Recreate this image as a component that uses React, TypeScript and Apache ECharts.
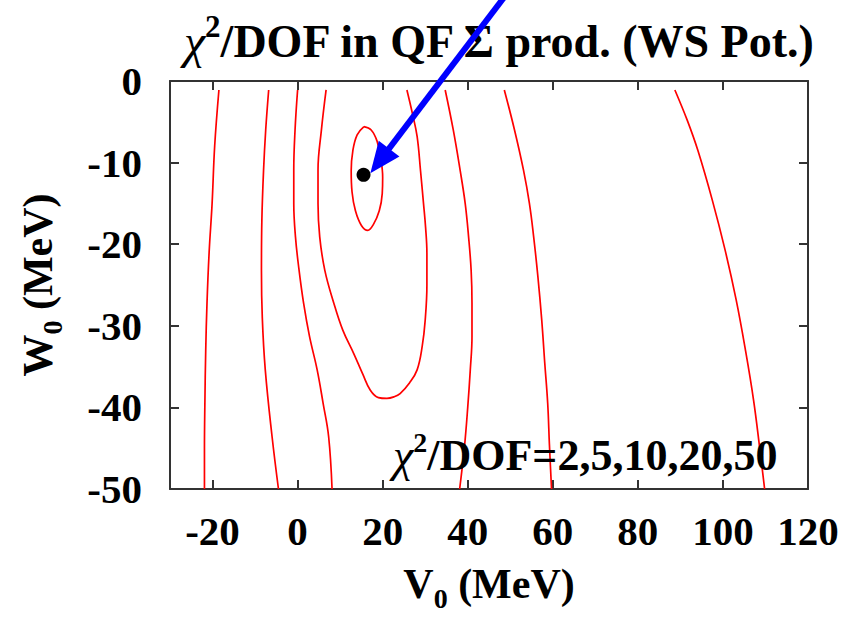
import React, { useEffect, useRef } from 'react';
import * as echarts from 'echarts';

// ---- data (V0, W0) in MeV ----
const xTickValues = [-20, 0, 20, 40, 60, 80, 100];
const xLabelValues = [-20, 0, 20, 40, 60, 80, 100, 120];
const chiLevels = [2, 5, 10, 20, 50];

// chi^2/DOF = 2 (closed ellipse around minimum)
const contour2 = [
  [15.6, -5.6], [14.0, -6.6], [13.0, -8.5], [12.6, -11.0], [12.8, -13.6], [13.6, -15.9],
  [15.0, -17.7], [16.5, -18.3], [17.8, -17.6], [19.2, -15.9], [19.9, -13.8], [20.0, -11.8],
  [19.6, -9.6], [18.7, -7.4], [17.3, -6.0], [15.6, -5.6],
];
// chi^2/DOF = 5 (open at top)
const contour5 = [
  [6.7, -1.1], [5.6, -6.0], [4.8, -10.9], [4.8, -15.0], [5.2, -19.1], [6.4, -23.2], [8.5, -27.2],
  [10.6, -30.5], [13.2, -33.4], [15.3, -35.9], [17.1, -37.9], [19.0, -38.8], [21.0, -38.9],
  [22.7, -38.7], [24.1, -38.3], [26.3, -37.0], [28.1, -35.4], [29.3, -32.5], [30.0, -29.3],
  [30.4, -25.0], [30.4, -21.1], [30.1, -18.0], [29.6, -15.0], [28.9, -11.0], [28.1, -6.8],
  [27.0, -4.0], [25.7, -1.1],
];
// chi^2/DOF = 10
const contour10Left = [
  [0.0, -1.1], [-0.6, -6.0], [-0.9, -10.9], [-0.9, -15.0], [-0.5, -19.1], [0.3, -23.0],
  [1.4, -27.2], [2.8, -31.3], [4.6, -35.4], [6.0, -39.5], [7.3, -43.6], [8.1, -50.0],
];
const contour10Right = [
  [34.7, -1.1], [36.6, -6.0], [38.2, -10.9], [39.4, -15.0], [40.2, -19.1], [40.8, -23.2],
  [41.0, -27.2], [41.0, -31.3], [40.6, -35.4], [40.0, -40.0], [39.2, -45.0], [38.1, -50.0],
];
// chi^2/DOF = 20
const contour20Left = [
  [-6.8, -1.1], [-7.5, -6.0], [-8.0, -10.9], [-8.4, -17.0], [-8.5, -23.2], [-8.3, -29.0],
  [-7.6, -35.4], [-6.0, -43.6], [-4.5, -50.0],
];
const contour20Right = [
  [48.6, -1.1], [51.0, -6.0], [53.1, -10.9], [54.5, -15.0], [55.5, -19.1], [56.5, -24.0],
  [57.4, -29.3], [58.1, -34.5], [58.8, -39.5], [59.2, -44.5], [59.7, -50.0],
];
// chi^2/DOF = 50
const contour50Left = [
  [-18.5, -1.1], [-19.5, -8.0], [-20.1, -15.0], [-20.8, -21.0], [-21.3, -27.2], [-21.6, -33.0],
  [-21.8, -39.5], [-21.9, -45.0], [-21.9, -50.0],
];
const contour50Right = [
  [88.7, -1.1], [91.6, -4.8], [94.1, -8.5], [97.5, -14.6], [100.5, -20.7], [103.1, -26.8],
  [105.3, -33.0], [107.2, -39.1], [108.7, -45.2], [109.8, -50.0],
];

const bestFit = [15.5, -11.5];
const arrowStart = [48.9, 10.5];
const arrowEnd = [17.1, -11.3];

const FONT = "'Liberation Serif', 'DejaVu Serif', serif";
const FRAME = '#333333';

export default function App() {
  const ref = useRef<HTMLDivElement>(null);

  useEffect(() => {
    if (!ref.current) return;
    const chart = echarts.init(ref.current, null, { renderer: 'svg' });

    const contours: [string, number[][]][] = [
      ['2', contour2], ['5', contour5], ['10a', contour10Left], ['10b', contour10Right],
      ['20a', contour20Left], ['20b', contour20Right], ['50a', contour50Left], ['50b', contour50Right],
    ];

    const axisCommon = {
      axisLine: { show: true, onZero: false, lineStyle: { color: FRAME, width: 2 } },
      splitLine: { show: false },
    };

    const option: any = {
      animation: false,
      backgroundColor: '#ffffff',
      textStyle: { fontFamily: FONT },
      title: {
        text: '{c|χ}{s|2}{m|/DOF in QF Σ prod. (WS Pot.)}',
        left: 184,
        top: 11,
        padding: 0,
        textStyle: {
          rich: {
            c: { fontSize: 48, fontFamily: FONT, fontStyle: 'italic', fontWeight: 'normal', color: '#000' },
            m: { fontSize: 46, fontFamily: FONT, fontWeight: 'bold', color: '#000' },
            s: { fontSize: 31, fontFamily: FONT, fontWeight: 'bold', color: '#000', padding: [0, 0, 29, 0] },
          },
        },
      },
      grid: { left: 170, right: 49, top: 81, bottom: 131, containLabel: false, outerBoundsMode: 'none' },
      xAxis: [
        {
          type: 'value', min: -30, max: 120, position: 'bottom',
          ...axisCommon,
          axisTick: { show: true, inside: true, length: 9, customValues: xTickValues, lineStyle: { color: FRAME, width: 2 } },
          axisLabel: {
            customValues: xLabelValues, margin: 21, fontSize: 41, fontWeight: 'bold', color: '#000', fontFamily: FONT,
          },
          name: '{m|V}{s|0}{m| (MeV)}',
          nameLocation: 'middle',
          nameGap: 67,
          nameTextStyle: {
            rich: {
              m: { fontSize: 42, fontWeight: 'bold', fontFamily: FONT, color: '#000' },
              s: { fontSize: 28, fontWeight: 'bold', fontFamily: FONT, color: '#000', padding: [28, 0, 0, 0] },
            },
          },
        },
        {
          type: 'value', min: -30, max: 120, position: 'top',
          ...axisCommon,
          axisTick: { show: true, inside: true, length: 9, customValues: xTickValues, lineStyle: { color: FRAME, width: 2 } },
          axisLabel: { show: false },
        },
      ],
      yAxis: [
        {
          type: 'value', min: -50, max: 0, interval: 10, position: 'left',
          ...axisCommon,
          axisTick: { show: true, inside: true, length: 9, lineStyle: { color: FRAME, width: 2 } },
          axisLabel: { margin: 28, fontSize: 41, fontWeight: 'bold', color: '#000', fontFamily: FONT },
          name: '{m|W}{s|0}{m| (MeV)}',
          nameLocation: 'middle',
          nameRotate: 90,
          nameGap: 104,
          nameTextStyle: {
            rich: {
              m: { fontSize: 42, fontWeight: 'bold', fontFamily: FONT, color: '#000' },
              s: { fontSize: 28, fontWeight: 'bold', fontFamily: FONT, color: '#000', padding: [28, 0, 0, 0] },
            },
          },
        },
        {
          type: 'value', min: -50, max: 0, interval: 10, position: 'right',
          ...axisCommon,
          axisTick: { show: true, inside: true, length: 9, lineStyle: { color: FRAME, width: 2 } },
          axisLabel: { show: false },
        },
      ],
      series: [
        ...contours.map(([name, data]) => ({
          name: 'chi2_' + name,
          type: 'line',
          xAxisIndex: 0,
          yAxisIndex: 0,
          data,
          smooth: 0.4,
          showSymbol: false,
          symbol: 'none',
          lineStyle: { color: '#ff0000', width: 1.7 },
          emphasis: { disabled: true },
          z: 3,
        })),
        {
          name: 'best fit',
          type: 'scatter',
          xAxisIndex: 0,
          yAxisIndex: 0,
          data: [bestFit],
          symbol: 'circle',
          symbolSize: 14,
          itemStyle: { color: '#000000', opacity: 1 },
          emphasis: { disabled: true },
          z: 5,
        },
      ],
    };

    chart.setOption(option);

    // arrow annotation & level label
    const p0 = chart.convertToPixel({ xAxisIndex: 0, yAxisIndex: 0 }, arrowStart) as number[];
    const p1 = chart.convertToPixel({ xAxisIndex: 0, yAxisIndex: 0 }, arrowEnd) as number[];
    const dx = p1[0] - p0[0];
    const dy = p1[1] - p0[1];
    const len = Math.sqrt(dx * dx + dy * dy);
    const ux = dx / len, uy = dy / len;
    const headLen = 31, headHalf = 13;
    const bx = p1[0] - ux * headLen, by = p1[1] - uy * headLen;
    const nx = -uy, ny = ux;

    chart.setOption({
      graphic: [
        {
          type: 'line', z: 100,
          shape: { x1: p0[0], y1: p0[1], x2: bx + ux * 2, y2: by + uy * 2 },
          style: { stroke: '#0000ff', lineWidth: 6 },
        },
        {
          type: 'polygon', z: 100,
          shape: { points: [[p1[0], p1[1]], [bx + nx * headHalf, by + ny * headHalf], [bx - nx * headHalf, by - ny * headHalf]] },
          style: { fill: '#0000ff' },
        },
        {
          type: 'text', z: 50,
          x: 393, y: 428,
          style: {
            text: '{c|χ}{s|2}{m|/DOF=' + chiLevels.join(',') + '}',
            rich: {
              c: { fontSize: 46, fontStyle: 'italic', fontWeight: 'normal', fontFamily: FONT, fill: '#000', color: '#000' },
              m: { fontSize: 44, fontWeight: 'bold', fontFamily: FONT, fill: '#000', color: '#000' },
              s: { fontSize: 28, fontWeight: 'bold', fontFamily: FONT, fill: '#000', color: '#000', padding: [0, 0, 27, 0] },
            },
          },
        },
      ],
    });

    return () => chart.dispose();
  }, []);

  return (
    <div
      ref={ref}
      style={{ position: 'fixed', left: 0, top: 0, width: 857, height: 620, background: '#fff' }}
    />
  );
}
